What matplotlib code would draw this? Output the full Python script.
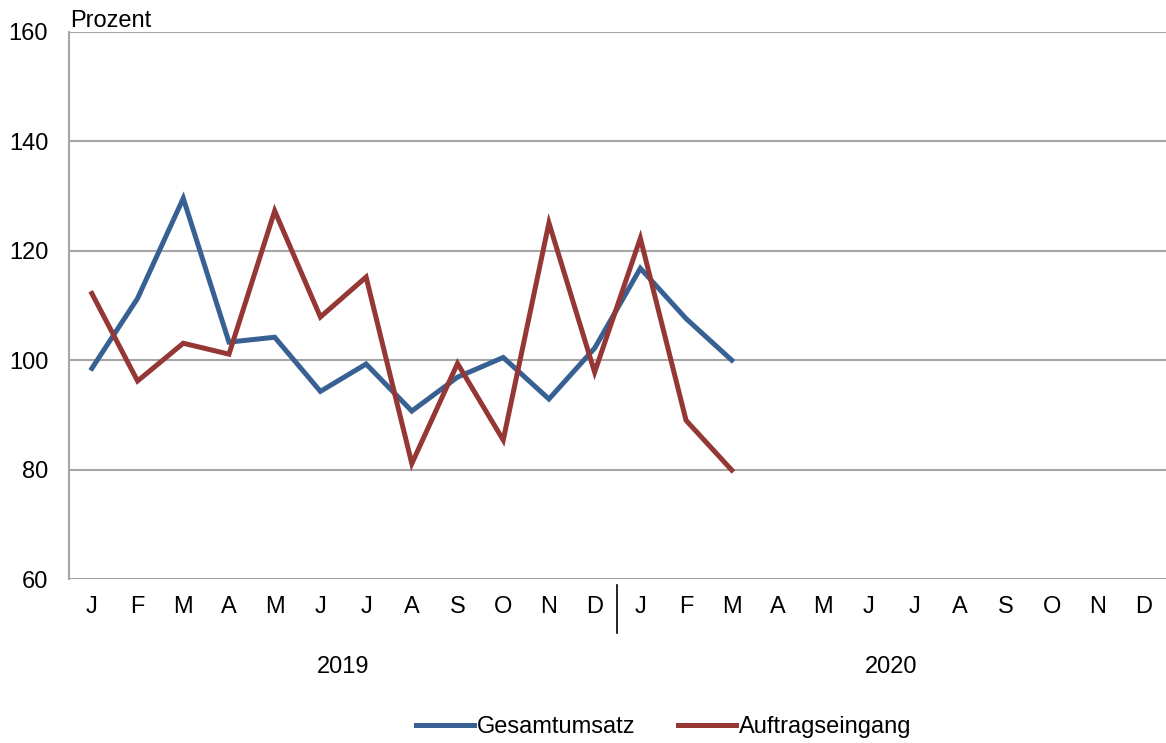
import matplotlib
matplotlib.use("Agg")
import matplotlib.pyplot as plt
import matplotlib.transforms as mtransforms
from matplotlib.lines import Line2D

plt.rcParams['font.family'] = ['Liberation Sans', 'DejaVu Sans']

months = ["J", "F", "M", "A", "M", "J", "J", "A", "S", "O", "N", "D",
          "J", "F", "M", "A", "M", "J", "J", "A", "S", "O", "N", "D"]
years = ["2019", "2020"]
gesamtumsatz = [98.5, 111.3, 129.6, 103.3, 104.2, 94.3, 99.3, 90.7, 96.9, 100.5, 92.9, 102.2,
                116.8, 107.6, 100.0]
auftragseingang = [112.2, 96.2, 103.1, 101.1, 127.3, 107.9, 115.2, 81.1, 99.4, 85.4, 125.1, 97.8,
                   122.3, 89.0, 79.9]
yticks = [60, 80, 100, 120, 140, 160]

FS = 17
W, H = 1166, 743
fig = plt.figure(figsize=(W / 100, H / 100), dpi=100)
ax = fig.add_axes([69 / W, 1 - 579 / H, (1166 - 69) / W, (579 - 32) / H])

x = list(range(len(months)))
ax.plot(range(len(gesamtumsatz)), gesamtumsatz, color='#386193', lw=3.6,
        solid_joinstyle='miter', label='Gesamtumsatz', zorder=3)
ax.plot(range(len(auftragseingang)), auftragseingang, color='#953735', lw=3.6,
        solid_joinstyle='miter', label='Auftragseingang', zorder=3)

ax.set_xlim(-0.5, len(months) - 0.5)
ax.set_ylim(60, 160)
ax.set_yticks(yticks)
ax.set_yticklabels([str(v) for v in yticks], fontsize=FS)
ax.set_xticks(x)
ax.set_xticklabels(months, fontsize=FS)
ax.tick_params(axis='both', length=0)
ax.tick_params(axis='x', pad=12)
ax.tick_params(axis='y', pad=15)
ax.yaxis.grid(True, color='#A6A6A6', lw=1.5)
ax.set_axisbelow(True)
for s in ['top', 'right', 'bottom']:
    ax.spines[s].set_visible(False)
ax.spines['left'].set_color('#A6A6A6')
ax.spines['left'].set_linewidth(1.5)

# year separator
trans = mtransforms.blended_transform_factory(ax.transData, fig.transFigure)
ax.add_line(Line2D([11.5, 11.5], [1 - 585 / H, 1 - 633 / H], transform=trans,
                   color='black', lw=1.2, clip_on=False))
fig.text((69 + 45.7 * 6) / W, 1 - 667 / H, years[0], ha='center', va='center', fontsize=FS)
fig.text((69 + 45.7 * 18) / W, 1 - 667 / H, years[1], ha='center', va='center', fontsize=FS)

fig.text(70 / W, 1 - 21 / H, "Prozent", ha='left', va='center', fontsize=FS)

leg = fig.legend(loc='center', bbox_to_anchor=(664 / W, 1 - 727 / H), ncol=2, frameon=False,
                 fontsize=FS, handlelength=2.45, handletextpad=0.13, columnspacing=1.8)

fig.savefig('out.png', dpi=100)
